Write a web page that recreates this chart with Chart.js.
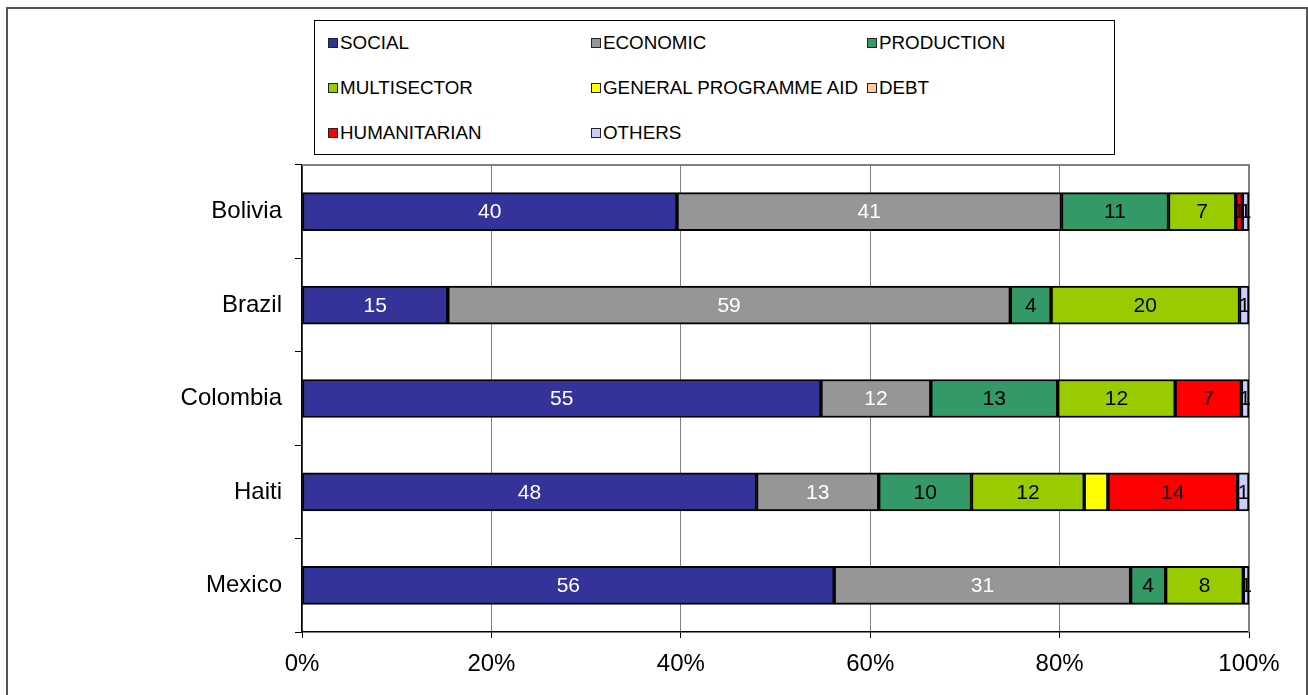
<!DOCTYPE html>
<html>
<head>
<meta charset="utf-8">
<script src="https://cdn.jsdelivr.net/npm/chart.js@4.4.0/dist/chart.umd.min.js"></script>
<style>
  body { margin: 0; background: #fff; font-family: Arial, "Liberation Sans", sans-serif; }
  .frame { position: absolute; left: 6px; top: 7px; width: 1298px; height: 720px; border: 2px solid #555; }
  #wrap { position: absolute; left: 0; top: 0; width: 1308px; height: 695px; }
  .legend { position: absolute; left: 314px; top: 20px; width: 799px; height: 133px; border: 1px solid #000; background: #fff; }
  .legend .item { position: absolute; font-size: 18.8px; color: #000; line-height: 20px; white-space: nowrap; }
  .legend .sw { display: inline-block; width: 8px; height: 8px; border: 1.5px solid #222; margin-right: 2px; vertical-align: 1px; }
</style>
</head>
<body>
<div class="frame"></div>
<div id="wrap"><canvas id="myChart" width="1308" height="695"></canvas></div>
<div class="legend" id="legend"></div>
<script>
const countries = ["Bolivia", "Brazil", "Colombia", "Haiti", "Mexico"];
const sectors = ["SOCIAL", "ECONOMIC", "PRODUCTION", "MULTISECTOR", "GENERAL PROGRAMME AID", "DEBT", "HUMANITARIAN", "OTHERS"];
const colors = ["#333399", "#969696", "#339966", "#99CC00", "#FFFF00", "#FFCC99", "#FF0000", "#CCCCFF"];

// share of each sector in %, one list per sector, in country order
const social = [39.6, 15.4, 54.8, 48.0, 56.2];
const economic = [40.6, 59.4, 11.6, 12.9, 31.3];
const production = [11.3, 4.3, 13.4, 9.8, 3.7];
const multisector = [7.1, 19.9, 12.4, 11.9, 8.2];
const generalAid = [0, 0, 0, 2.5, 0];
const debt = [0, 0, 0, 0, 0];
const humanitarian = [0.7, 0, 7.0, 13.7, 0];
const others = [0.7, 1.0, 0.8, 1.2, 0.6];

const xTicks = [0, 20, 40, 60, 80, 100];

const series = [social, economic, production, multisector, generalAid, debt, humanitarian, others];
const whiteLabels = ["SOCIAL", "ECONOMIC"];
const noLabels = ["GENERAL PROGRAMME AID"];

// legend box, 3 columns
const legend = document.getElementById("legend");
const colX = [13, 276, 552];
const rowY = [12, 57, 102];
sectors.forEach((s, i) => {
  const d = document.createElement("div");
  d.className = "item";
  d.style.left = colX[i % 3] + "px";
  d.style.top = rowY[Math.floor(i / 3)] + "px";
  d.innerHTML = '<span class="sw" style="background:' + colors[i] + '"></span>' + s;
  legend.appendChild(d);
});

const barLabels = {
  id: "barLabels",
  afterDatasetsDraw(chart) {
    const ctx = chart.ctx;
    ctx.save();
    ctx.font = "21px Arial, 'Liberation Sans'";
    ctx.textAlign = "center";
    ctx.textBaseline = "middle";
    chart.data.datasets.forEach((ds, i) => {
      if (noLabels.includes(ds.label)) return;
      chart.getDatasetMeta(i).data.forEach((bar, j) => {
        const v = ds.data[j];
        if (!v) return;
        ctx.fillStyle = whiteLabels.includes(ds.label) ? "#fff" : "#000";
        ctx.fillText(Math.round(v), (bar.x + bar.base) / 2, bar.y + 1);
      });
    });
    ctx.restore();
  },
};

const plotFrame = {
  id: "plotFrame",
  beforeDatasetsDraw(chart) {
    const a = chart.chartArea;
    const ctx = chart.ctx;
    ctx.save();
    ctx.strokeStyle = "#808080";
    ctx.lineWidth = 2;
    ctx.beginPath();
    ctx.moveTo(a.left, a.top);
    ctx.lineTo(a.right, a.top);
    ctx.lineTo(a.right, a.bottom);
    ctx.stroke();
    ctx.restore();
  },
};

const myChart = new Chart(document.getElementById("myChart").getContext("2d"), {
  type: "bar",
  data: {
    labels: countries,
    datasets: sectors.map((s, i) => ({
      label: s,
      data: series[i],
      backgroundColor: colors[i],
      borderColor: "#000",
      borderWidth: 2,
      borderSkipped: false,
      barThickness: 38,
    })),
  },
  options: {
    indexAxis: "y",
    responsive: false,
    animation: false,
    layout: { padding: { left: 0, right: 59, top: 165, bottom: 0 } },
    scales: {
      x: {
        stacked: true,
        min: 0,
        max: 100,
        afterBuildTicks: (scale) => { scale.ticks = xTicks.map((v) => ({ value: v })); },
        afterFit: (scale) => { scale.height = 63; },
        ticks: {
          callback: (v) => v + "%",
          color: "#000",
          font: { family: "Arial, 'Liberation Sans'", size: 24 },
          padding: 12,
          maxRotation: 0,
        },
        grid: { color: "#808080", lineWidth: 1, tickColor: "#000", tickLength: 6 },
        border: { color: "#000", width: 1.5 },
      },
      y: {
        stacked: true,
        afterFit: (scale) => { scale.width = 302; },
        ticks: {
          color: "#000",
          font: { family: "Arial, 'Liberation Sans'", size: 24 },
          padding: 13,
        },
        grid: { drawOnChartArea: false, offset: true, tickColor: "#000", tickLength: 7 },
        border: { color: "#000", width: 1.5 },
      },
    },
    plugins: {
      legend: { display: false },
      tooltip: { enabled: false },
    },
  },
  plugins: [plotFrame, barLabels],
});
</script>
</body>
</html>
